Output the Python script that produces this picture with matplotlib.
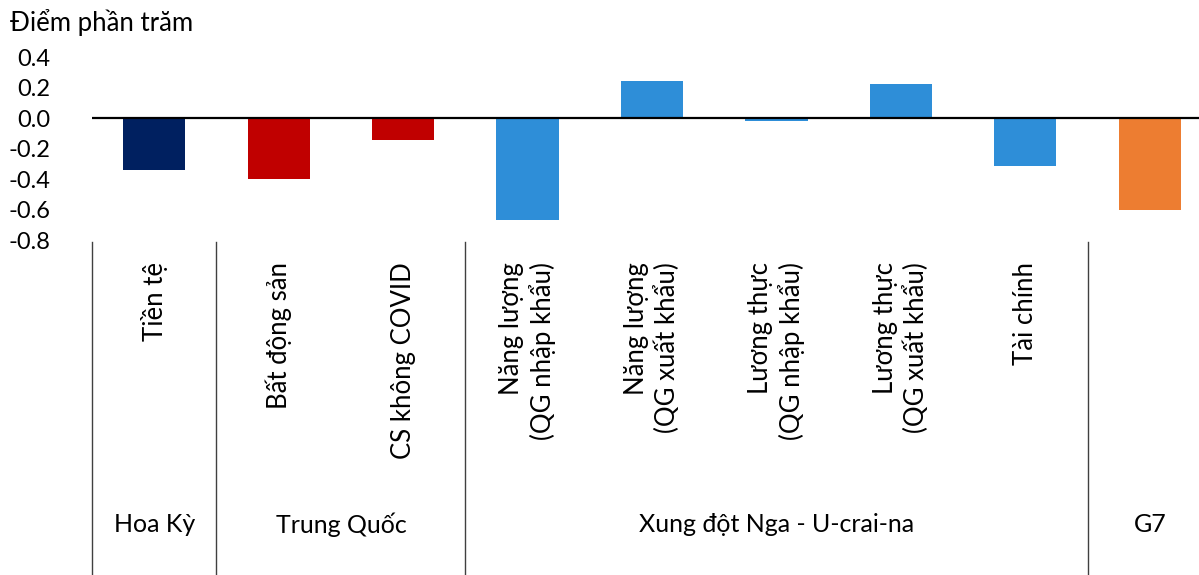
import matplotlib
matplotlib.use("Agg")
import matplotlib.pyplot as plt
from matplotlib.transforms import blended_transform_factory

plt.rcParams['font.family'] = ['Lato', 'DejaVu Sans']

categories = ["Tiền tệ", "Bất động sản", "CS không COVID",
              "Năng lượng\n(QG nhập khẩu)", "Năng lượng\n(QG xuất khẩu)",
              "Lương thực\n(QG nhập khẩu)", "Lương thực\n(QG xuất khẩu)",
              "Tài chính", "G7"]
values = [-0.34, -0.40, -0.145, -0.67, 0.245, -0.016, 0.225, -0.31, -0.60]
colors = ["#002060", "#C00000", "#C00000", "#2E8ED8", "#2E8ED8",
          "#2E8ED8", "#2E8ED8", "#2E8ED8", "#ED7D31"]
groups = ["Hoa Kỳ", "Trung Quốc", "Xung đột Nga - U-crai-na", "G7"]
group_bounds = [(-0.5, 0.5), (0.5, 2.5), (2.5, 7.5), (7.5, 8.5)]
yticks = [0.4, 0.2, 0.0, -0.2, -0.4, -0.6, -0.8]

W, H = 1199, 575
fig = plt.figure(figsize=(W / 100, H / 100), dpi=100)
ax_left, ax_right = 92 / W, 1212 / W
ax_bot, ax_top = (H - 240.3) / H, (H - 57.3) / H
ax = fig.add_axes([ax_left, ax_bot, ax_right - ax_left, ax_top - ax_bot])

x = list(range(len(categories)))
ax.bar(x, values, width=0.5, color=colors, zorder=2)
ax.axhline(0, color="black", lw=1.6, zorder=3)
ax.set_xlim(-0.5, 8.5)
ax.set_ylim(-0.8, 0.4)
ax.set_yticks(yticks)
ax.set_yticklabels([f"{v:.1f}" for v in yticks], fontsize=17)
ax.tick_params(axis='y', length=0, pad=30)
ax.set_xticks([])
for s in ax.spines.values():
    s.set_visible(False)

fig.text(10 / W, 1 - 23 / H, "Điểm phần trăm", fontsize=18.5, ha="left", va="center")

# category labels (rotated); the G7 bar is labelled only by its group
tr = blended_transform_factory(ax.transData, fig.transFigure)
for xi, lab in zip(x, categories):
    if lab in groups:
        continue
    ax.text(xi, 1 - 262 / H, lab, rotation=90, ha="center", va="top",
            multialignment="right", fontsize=18.5, transform=tr, linespacing=1.25)

# group labels
for g, (a, b) in zip(groups, group_bounds):
    ax.text((a + b) / 2, 1 - 525 / H, g, ha="center", va="center",
            fontsize=18, transform=tr)

# separators
for xb in [-0.5, 0.5, 2.5, 7.5, 8.5]:
    ax.plot([xb, xb], [1 - 242 / H, 0], transform=tr, color="#404040",
            lw=1.0, clip_on=False)

fig.savefig("out.png", dpi=100)
